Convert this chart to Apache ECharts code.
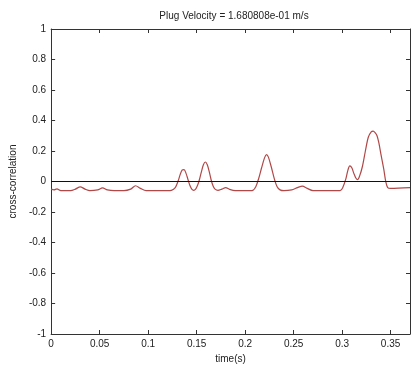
<!DOCTYPE html>
<html><head><meta charset="utf-8">
<script src="https://cdn.jsdelivr.net/npm/echarts@6/dist/echarts.min.js"></script>
<style>html,body{margin:0;padding:0;background:#fff}#c{width:411px;height:369px}</style>
</head><body><div id="c"></div>
<script>
const titleText = 'Plug Velocity = 1.680808e-01 m/s';
const xLabel = 'time(s)';
const yLabel = 'cross-correlation';
const timeS = [0,0.003,0.006,0.01,0.02,0.025,0.03,0.035,0.04,0.048,0.053,0.058,0.065,0.075,0.082,0.087,0.092,0.098,0.12,
  0.124,0.128,0.131,0.133,0.135,0.137,0.139,0.141,0.143,0.145,0.147,0.149,0.151,0.153,0.155,0.157,0.159,0.161,0.163,0.165,0.167,0.169,0.172,
  0.176,0.18,0.184,0.19,0.205,
  0.208,0.211,0.214,0.217,0.22,0.222,0.224,0.227,0.23,0.233,0.236,0.24,
  0.248,0.254,0.259,0.264,0.27,
  0.298,0.301,0.304,0.306,0.308,0.31,0.312,0.314,0.316,0.318,0.321,0.324,0.327,0.33,0.332,0.334,0.336,0.338,0.34,0.343,0.345,0.347,0.35,0.37];
const xcorr = [-0.05,-0.055,-0.048,-0.06,-0.06,-0.05,-0.035,-0.05,-0.06,-0.055,-0.042,-0.055,-0.06,-0.06,-0.05,-0.028,-0.045,-0.06,-0.06,
  -0.058,-0.04,0.005,0.045,0.075,0.078,0.055,0.015,-0.025,-0.05,-0.058,-0.05,-0.025,0.015,0.065,0.11,0.128,0.11,0.065,0.01,-0.03,-0.05,-0.058,
  -0.05,-0.04,-0.052,-0.06,-0.06,
  -0.058,-0.035,0.02,0.09,0.155,0.176,0.16,0.095,0.02,-0.035,-0.055,-0.06,
  -0.055,-0.04,-0.03,-0.045,-0.06,
  -0.06,-0.035,0.02,0.075,0.102,0.09,0.055,0.025,0.012,0.035,0.1,0.2,0.29,0.325,0.33,0.32,0.3,0.25,0.18,0.08,0.0,-0.04,-0.045,-0.04];
const xMin = 0, xMax = 0.37, xStep = 0.05;
const yMin = -1, yMax = 1, yStep = 0.2;

const font = 'Liberation Sans, Arial, sans-serif';
const axisCol = '#333';
const chart = echarts.init(document.getElementById('c'));
const tickFmt = v => String(Math.round(v*100)/100);
chart.setOption({
  animation: false,
  title: {text: titleText, left: 229, top: 6, textAlign: 'center',
    textStyle: {fontFamily: font, fontSize: 10, fontWeight: 'normal', color: '#222'}},
  grid: {left: 48, right: 1, top: 29, bottom: 35},
  xAxis: [{
    type: 'value', min: xMin, max: xMax, interval: xStep, position: 'bottom',
    name: xLabel, nameLocation: 'middle', nameGap: 20,
    nameTextStyle: {fontFamily: font, fontSize: 10, color: '#222'},
    axisLine: {onZero: false, lineStyle: {color: axisCol, width: 1}},
    axisTick: {inside: true, length: 4, lineStyle: {color: axisCol}},
    axisLabel: {fontFamily: font, fontSize: 10, color: '#222', margin: 5, showMaxLabel: false, formatter: tickFmt},
    splitLine: {show: false}
  },{
    type: 'value', min: xMin, max: xMax, interval: xStep, position: 'top',
    axisLine: {onZero: false, lineStyle: {color: axisCol, width: 1}},
    axisTick: {inside: true, length: 4, lineStyle: {color: axisCol}},
    axisLabel: {show: false}, splitLine: {show: false}
  }],
  yAxis: [{
    type: 'value', min: yMin, max: yMax, interval: yStep, position: 'left',
    name: yLabel, nameLocation: 'middle', nameGap: 33, nameRotate: 90,
    nameTextStyle: {fontFamily: font, fontSize: 10, color: '#222'},
    axisLine: {show: true, onZero: false, lineStyle: {color: axisCol, width: 1}},
    axisTick: {show: true, inside: true, length: 4, lineStyle: {color: axisCol}},
    axisLabel: {fontFamily: font, fontSize: 10, color: '#222', margin: 5, formatter: tickFmt},
    splitLine: {show: false}
  },{
    type: 'value', min: yMin, max: yMax, interval: yStep, position: 'right',
    axisLine: {show: true, onZero: false, lineStyle: {color: axisCol, width: 1}},
    axisTick: {show: true, inside: true, length: 4, lineStyle: {color: axisCol}},
    axisLabel: {show: false}, splitLine: {show: false}
  }],
  series: [{
    type: 'line', xAxisIndex: 0, yAxisIndex: 0,
    data: timeS.map((t, i) => [t, xcorr[i]]),
    showSymbol: false, smooth: 0.3,
    lineStyle: {color: '#b04848', width: 1.2},
    markLine: {
      silent: true, symbol: 'none', label: {show: false},
      lineStyle: {color: '#111', width: 1, type: 'solid'},
      data: [{yAxis: 0}]
    },
    z: 3
  }]
});
</script></body></html>
